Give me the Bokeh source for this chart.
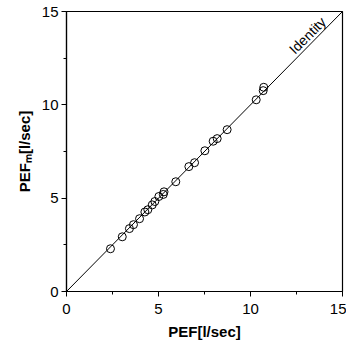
from bokeh.plotting import figure
from bokeh.models import Range1d, FixedTicker, Label
from bokeh.embed import file_html
from bokeh.resources import INLINE
import math

pef = [2.39, 3.03, 3.42, 3.64, 3.97, 4.26, 4.42, 4.66, 4.80, 5.02, 5.26, 5.30,
       5.94, 6.65, 6.96, 7.52, 7.97, 8.19, 8.73, 10.31, 10.69, 10.72]
pef_m = [2.29, 2.93, 3.37, 3.58, 3.90, 4.26, 4.38, 4.64, 4.82, 5.09, 5.20, 5.34,
         5.88, 6.69, 6.90, 7.54, 8.05, 8.19, 8.67, 10.27, 10.76, 10.94]
identity_x = [0, 15]
identity_y = [0, 15]
ticks = [0, 5, 10, 15]
minor = [2.5, 7.5, 12.5]

p = figure(width=346, height=342, output_backend="svg", toolbar_location=None,
           x_range=Range1d(0, 15), y_range=Range1d(0, 15),
           min_border_left=66, min_border_right=4, min_border_top=11, min_border_bottom=46)
p.xgrid.visible = False
p.ygrid.visible = False
p.outline_line_color = "black"
p.outline_line_width = 1.2
p.background_fill_color = "white"

for ax in (p.xaxis[0], p.yaxis[0]):
    ax.ticker = FixedTicker(ticks=ticks, minor_ticks=minor)
    ax.axis_line_color = "black"
    ax.axis_line_width = 1.2
    ax.major_tick_line_color = "black"
    ax.minor_tick_line_color = "black"
    ax.major_tick_out = 5
    ax.major_tick_in = 0
    ax.minor_tick_out = 3
    ax.minor_tick_in = 0
    ax.major_label_text_font = "Liberation Sans"
    ax.major_label_text_font_size = "15px"
    ax.major_label_text_color = "black"
    ax.axis_label_text_font = "Liberation Sans"
    ax.axis_label_text_font_style = "bold"
    ax.axis_label_text_font_size = "15px"
    ax.axis_label_text_color = "black"

p.xaxis.axis_label = "PEF[l/sec]"
p.yaxis.axis_label = "PEF\u2098[l/sec]"
p.xaxis.axis_label_standoff = 6
p.yaxis.axis_label_standoff = 6
p.yaxis.major_label_standoff = 3
p.xaxis.major_label_standoff = 7

p.line(identity_x, identity_y, line_color="black", line_width=1)
p.scatter(pef, pef_m, size=8, marker="circle", fill_alpha=0, line_color="black", line_width=1)

p.add_layout(Label(x=13.1, y=13.72, text="Identity", angle=math.radians(45),
                   text_align="center", text_baseline="middle",
                   text_font="Liberation Sans", text_font_size="14px", text_color="black"))

open("out.html", "w").write(file_html(p, INLINE))
